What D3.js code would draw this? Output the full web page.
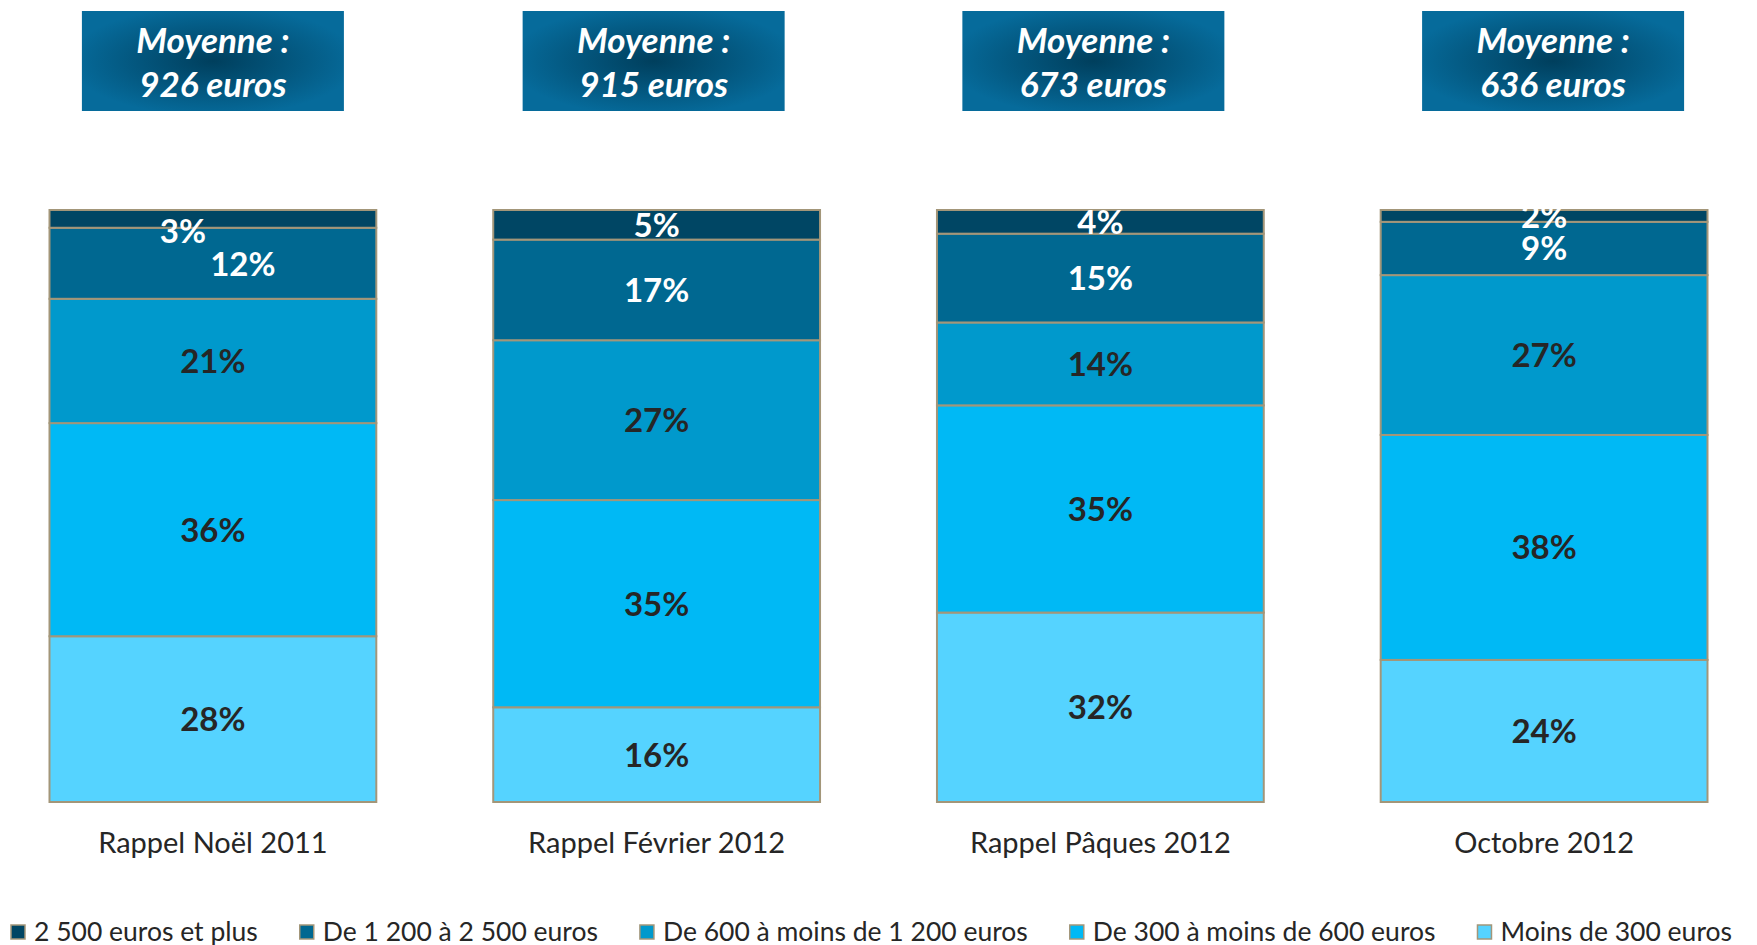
<html>
    <head>
        <title>Budget moyen</title>
        <script src="https://cdn.jsdelivr.net/npm/d3@7"></script>
        <style>
            body { margin: 0; background: #ffffff; }
            text { font-family: Lato, "Open Sans", sans-serif; }
        </style>
    </head>
    <body>
        <div id="chart"></div>
    </body>
</html>

<script type="text/javascript">

    // data
    var periods = ["Rappel Noël 2011", "Rappel Février 2012", "Rappel Pâques 2012", "Octobre 2012"];
    var averages = ["926 euros", "915 euros", "673 euros", "636 euros"];
    var bands = ["Moins de 300 euros", "De 300 à moins de 600 euros", "De 600 à moins de 1 200 euros",
                 "De 1 200 à 2 500 euros", "2 500 euros et plus"];
    var moins300 = [28, 16, 32, 24];
    var de300a600 = [36, 35, 35, 38];
    var de600a1200 = [21, 27, 14, 27];
    var de1200a2500 = [12, 17, 15, 9];
    var plus2500 = [3, 5, 4, 2];
    var legendOrder = ["2 500 euros et plus", "De 1 200 à 2 500 euros", "De 600 à moins de 1 200 euros",
                       "De 300 à moins de 600 euros", "Moins de 300 euros"];

    var width = 1757,
        height = 945;

    var colors = {
        "Moins de 300 euros": "#55d3ff",
        "De 300 à moins de 600 euros": "#00b9f5",
        "De 600 à moins de 1 200 euros": "#0099cc",
        "De 1 200 à 2 500 euros": "#006891",
        "2 500 euros et plus": "#004664"
    };
    var darkLabel = {"Moins de 300 euros": true, "De 300 à moins de 600 euros": true, "De 600 à moins de 1 200 euros": true};

    // build rows for the stack
    var rows = periods.map(function(p, i) {
        var r = { period: p };
        r[bands[0]] = moins300[i];
        r[bands[1]] = de300a600[i];
        r[bands[2]] = de600a1200[i];
        r[bands[3]] = de1200a2500[i];
        r[bands[4]] = plus2500[i];
        return r;
    });
    var series = d3.stack().keys(bands)(rows);

    var svg = d3.select("#chart")
        .append("svg")
        .attr("width", width)
        .attr("height", height);

    var x = d3.scaleBand()
        .domain(periods)
        .range([49.5, 1707.5])
        .paddingInner(0.2635)
        .paddingOuter(0);

    var y = d3.scaleLinear()
        .domain([0, 100])
        .range([802, 210]);

    // gradient for the "Moyenne" boxes
    var grad = svg.append("defs").append("radialGradient")
        .attr("id", "boxGrad")
        .attr("cx", "50%").attr("cy", "50%").attr("r", "55%");
    grad.append("stop").attr("offset", "0%").attr("stop-color", "#003f5d");
    grad.append("stop").attr("offset", "100%").attr("stop-color", "#066b9b");

    // stacked bars
    var layer = svg.append("g")
        .selectAll("g")
        .data(series)
        .enter()
        .append("g")
        .attr("fill", function(d) { return colors[d.key]; });

    layer.selectAll("rect")
        .data(function(d) { return d; })
        .enter()
        .append("rect")
            .attr("x", function(d) { return x(d.data.period); })
            .attr("y", function(d) { return y(d[1]); })
            .attr("width", x.bandwidth())
            .attr("height", function(d) { return y(d[0]) - y(d[1]); })
            .attr("stroke", "#a39679")
            .attr("stroke-width", 2);

    // a couple of labels were dragged by hand in the original
    var nudge = { "0-2 500 euros et plus": [-30, 12], "0-De 1 200 à 2 500 euros": [30, 1] };

    layer.each(function(s) {
        d3.select(this).selectAll("text")
            .data(s)
            .enter()
            .append("text")
                .attr("x", function(d, i) {
                    var n = nudge[i + "-" + s.key] || [0, 0];
                    return x(d.data.period) + x.bandwidth() / 2 + n[0];
                })
                .attr("y", function(d, i) {
                    var n = nudge[i + "-" + s.key] || [0, 0];
                    return (y(d[0]) + y(d[1])) / 2 + n[1];
                })
                .attr("dy", "0.36em")
                .attr("text-anchor", "middle")
                .style("font-size", "33px")
                .style("font-weight", "bold")
                .attr("fill", darkLabel[s.key] ? "#262626" : "#ffffff")
                .text(function(d) { return (d[1] - d[0]) + "%"; });
    });

    // x axis labels
    var xAxis = svg.append("g")
        .attr("transform", "translate(0,843)")
        .call(d3.axisBottom(x).tickSize(0).tickPadding(0));
    xAxis.select(".domain").remove();
    xAxis.selectAll("text")
        .attr("dy", "0.36em")
        .attr("fill", "#262626")
        .style("font-family", "Lato, sans-serif")
        .style("font-size", "29px");

    // Moyenne boxes
    var boxShift = [0, -3, -7, 9];
    var boxes = svg.append("g")
        .selectAll("g")
        .data(periods)
        .enter()
        .append("g")
        .attr("transform", function(d, i) {
            return "translate(" + (x(d) + x.bandwidth() / 2 + boxShift[i]) + ",0)";
        });

    boxes.append("rect")
        .attr("x", -131)
        .attr("y", 11)
        .attr("width", 262)
        .attr("height", 100)
        .attr("fill", "url(#boxGrad)");

    boxes.append("text")
        .attr("y", 40)
        .attr("dy", "0.36em")
        .attr("text-anchor", "middle")
        .attr("fill", "#ffffff")
        .style("font-size", "35px")
        .style("font-weight", "bold")
        .style("font-style", "italic")
        .text("Moyenne :");

    boxes.append("text")
        .attr("y", 84)
        .attr("dy", "0.36em")
        .attr("text-anchor", "middle")
        .attr("fill", "#ffffff")
        .style("font-size", "35px")
        .style("font-weight", "bold")
        .style("font-style", "italic")
        .text(function(d, i) { return averages[i]; });

    // legend
    var legend = svg.append("g");
    var lx = 11;
    legendOrder.forEach(function(k) {
        legend.append("rect")
            .attr("x", lx)
            .attr("y", 925)
            .attr("width", 14)
            .attr("height", 14)
            .attr("fill", colors[k])
            .attr("stroke", "#a39679")
            .attr("stroke-width", 1.5);
        var t = legend.append("text")
            .attr("x", lx + 23)
            .attr("y", 931)
            .attr("dy", "0.36em")
            .attr("fill", "#262626")
            .style("font-size", "26.5px")
            .text(k);
        var w = t.node().getComputedTextLength();
        lx = lx + 23 + w + 42;
    });

</script>
